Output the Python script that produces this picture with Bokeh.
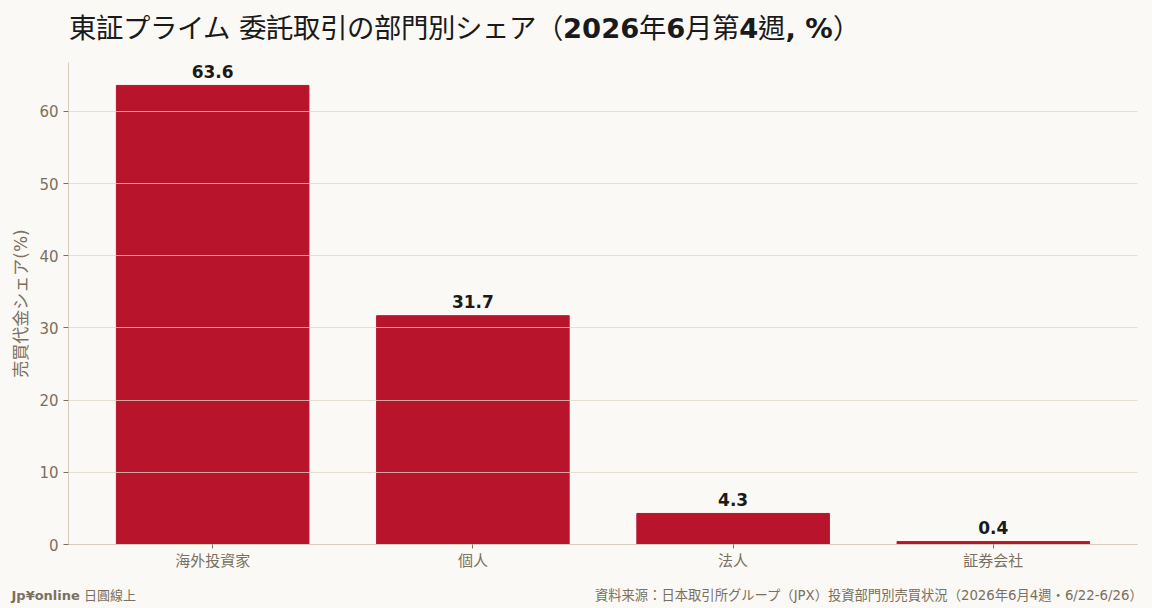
from bokeh.plotting import figure
from bokeh.layouts import column
from bokeh.models import FactorRange, Range1d, Label, ColumnDataSource
from bokeh.core.properties import value
from bokeh.embed import file_html
from bokeh.resources import INLINE

## ----- DATA ----- ##
categories = ["海外投資家", "個人", "法人", "証券会社"]
shares = [63.6, 31.7, 4.3, 0.4]
share_labels = ["63.6", "31.7", "4.3", "0.4"]

TITLE = "東証プライム 委託取引の部門別シェア（2026年6月第4週, %）"
Y_LABEL = "売買代金シェア(%)"
BRAND = "Jp¥online 日圓線上"
SOURCE = "資料来源：日本取引所グループ（JPX）投資部門別売買状況（2026年6月4週・6/22-6/26）"

## ----- STYLE ----- ##
BG = "#faf9f5"
BAR = "#b8152d"
AXIS = "#d6cdbd"
MUTED = "#7b705f"
INK = "#1a1a1a"
FONT = "DejaVu Sans, Noto Sans CJK TC"
# bold latin with regular-weight CJK fallback (like the original)
MIXED = "DejaVu Sans, CJKReg, Noto Sans CJK TC"

W = 1152


def strip(h):
    """blank full-width band used for the title and the footer texts"""
    s = figure(width=W, height=h, x_range=Range1d(0, W), y_range=Range1d(0, h),
               output_backend="svg", toolbar_location=None, tools="",
               min_border=0)
    s.frame_align = False
    s.axis.visible = False
    s.grid.visible = False
    s.outline_line_color = None
    s.background_fill_color = BG
    s.border_fill_color = BG
    return s


## ----- TITLE ----- ##
head = strip(50)
head.add_layout(Label(x=68, y=22, x_units="screen", y_units="screen", text=TITLE,
                      text_font=MIXED, text_font_style="bold", text_font_size="27.4px",
                      text_color=INK, text_baseline="middle"))

## ----- BAR CHART ----- ##
src = ColumnDataSource(data=dict(cat=categories, val=shares, lab=share_labels))

p = figure(x_range=FactorRange(*categories, range_padding=0.027),
           y_range=Range1d(0, max(shares) * 1.05),
           width=W, height=530, output_backend="svg",
           toolbar_location=None, tools="",
           min_border_left=68, min_border_right=15,
           min_border_top=12, min_border_bottom=36)
p.frame_align = False

p.background_fill_color = BG
p.border_fill_color = BG
p.outline_line_color = None

p.vbar(x="cat", top="val", width=0.74, color=BAR, source=src)
p.text(x="cat", y="val", text="lab", source=src, text_align="center",
       text_baseline="alphabetic", y_offset=-14, text_color=INK,
       text_font=value("DejaVu Sans"), text_font_style="bold",
       text_font_size="17px")

# grid sits on top of the bars
p.xgrid.grid_line_color = None
p.ygrid.grid_line_color = "#ddd5c6"
p.ygrid.grid_line_alpha = 0.75
p.ygrid.level = "guide"

for ax in (p.xaxis, p.yaxis):
    ax.axis_line_color = AXIS
    ax.major_tick_line_color = MUTED
    ax.minor_tick_line_color = None
    ax.major_label_text_color = MUTED
    ax.major_label_text_font = FONT
    ax.major_label_text_font_size = "15px"

p.yaxis.major_tick_in = 0
p.yaxis.major_tick_out = 5
p.yaxis.major_label_standoff = 5
p.yaxis.ticker = [0, 10, 20, 30, 40, 50, 60]
p.yaxis.axis_label = Y_LABEL
p.yaxis.axis_label_text_color = MUTED
p.yaxis.axis_label_text_font = FONT
p.yaxis.axis_label_text_font_style = "normal"
p.yaxis.axis_label_text_font_size = "17px"
p.yaxis.axis_label_standoff = 5

p.xaxis.major_tick_in = 0
p.xaxis.major_tick_out = 4
p.xaxis.major_label_standoff = 3

## ----- FOOTER ----- ##
foot = strip(28)
foot.add_layout(Label(x=11, y=13, x_units="screen", y_units="screen", text=BRAND,
                      text_font=MIXED, text_font_style="bold", text_font_size="13px",
                      text_color=MUTED, text_baseline="middle"))
foot.add_layout(Label(x=1143, y=13, x_units="screen", y_units="screen", text=SOURCE,
                      text_font=FONT, text_font_size="13.3px", text_color=MUTED,
                      text_align="right", text_baseline="middle"))

layout = column(head, p, foot, spacing=0)

CSS = """<style>
body { background: %s; }
@font-face { font-family: "CJKReg"; font-weight: 100 900;
  src: local("Noto Sans CJK TC Regular"), local("NotoSansCJKtc-Regular"), local("Noto Sans CJK TC"); }
</style>""" % BG

html = file_html(layout, INLINE)
html = html.replace("<head>", "<head>" + CSS, 1)
open("out.html", "w").write(html)
